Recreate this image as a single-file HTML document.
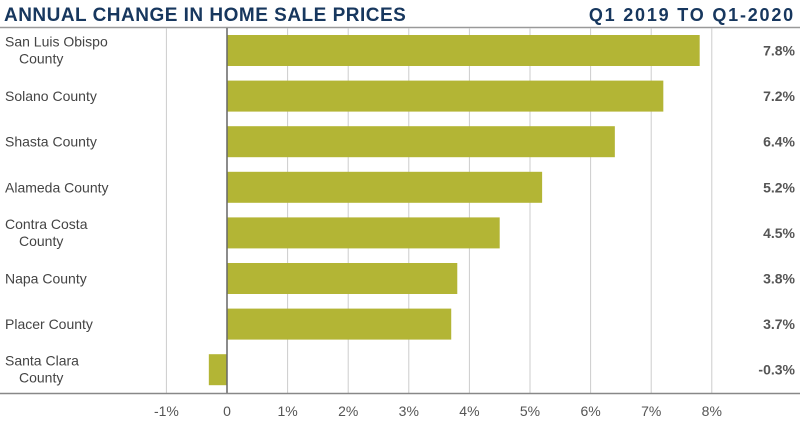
<!DOCTYPE html>
<html><head><meta charset="utf-8"><style>
body{margin:0;background:#fff;font-family:"Liberation Sans",sans-serif;}
#wrap{position:relative;width:800px;height:437px;overflow:hidden}
</style></head><body>
<div id="wrap">
<svg id="chart" width="800" height="437">
<text x="4" y="21" font-size="19" font-weight="bold" fill="#17375e" letter-spacing="0.2" textLength="402">ANNUAL CHANGE IN HOME SALE PRICES</text>
<text x="795" y="21" font-size="18" font-weight="bold" fill="#17375e" text-anchor="end" letter-spacing="1.8">Q1 2019 TO Q1-2020</text>
<line x1="0" y1="27.5" x2="800" y2="27.5" stroke="#999" stroke-width="1.5"/>
<g id="grid"></g><g id="bars"></g><g id="labels"></g>
</svg>
</div>
<script>
const categories=[["San Luis Obispo","County"],["Solano County"],["Shasta County"],["Alameda County"],["Contra Costa","County"],["Napa County"],["Placer County"],["Santa Clara","County"]];
const values=[7.8,7.2,6.4,5.2,4.5,3.8,3.7,-0.3];
const valueLabels=["7.8%","7.2%","6.4%","5.2%","4.5%","3.8%","3.7%","-0.3%"];
const ticks=[-1,0,1,2,3,4,5,6,7,8];
const tickLabels=["-1%","0","1%","2%","3%","4%","5%","6%","7%","8%"];
const NS="http://www.w3.org/2000/svg";
const x=v=>227+v*60.6;
const yc=i=>50.5+i*45.6;
function mk(t,a,p){const e=document.createElementNS(NS,t);for(const k in a)e.setAttribute(k,a[k]);p.appendChild(e);return e;}
const grid=document.getElementById('grid'),bars=document.getElementById('bars'),labels=document.getElementById('labels');
ticks.forEach((t,i)=>{
  if(t!==0){const l=mk('line',{x1:x(t),x2:x(t),y1:28,y2:393,stroke:'#ccc','stroke-width':1},grid);
  
  }
  const tx=mk('text',{x:x(t),y:416,'font-size':14,fill:'#555','text-anchor':'middle'},labels);
  tx.textContent=tickLabels[i];
  
  
});
values.forEach((v,i)=>{
  const r=mk('rect',{x:Math.min(x(0),x(v)),y:yc(i)-15.5,width:Math.abs(x(v)-x(0)),height:31,fill:'#b3b535'},bars);
  
  
  const vl=mk('text',{x:795,y:yc(i)+5,'font-size':14,'font-weight':'bold',fill:'#555','text-anchor':'end'},labels);
  vl.textContent=valueLabels[i];
  
  
  const c=categories[i];
  const cl=mk('text',{'font-size':14,fill:'#444'},labels);
  
  
  if(c.length===1){const s=mk('tspan',{x:5,y:yc(i)+5},cl);s.textContent=c[0];}
  else{const s1=mk('tspan',{x:5,y:yc(i)-4},cl);s1.textContent=c[0];const s2=mk('tspan',{x:19,y:yc(i)+13},cl);s2.textContent=c[1];}
});
const z=mk('line',{x1:x(0),x2:x(0),y1:28,y2:393,stroke:'#666','stroke-width':1.5},grid.parentNode);


const b=mk('line',{x1:0,x2:800,y1:393.5,y2:393.5,stroke:'#888','stroke-width':1.5},grid.parentNode);


</script>
</body></html>
